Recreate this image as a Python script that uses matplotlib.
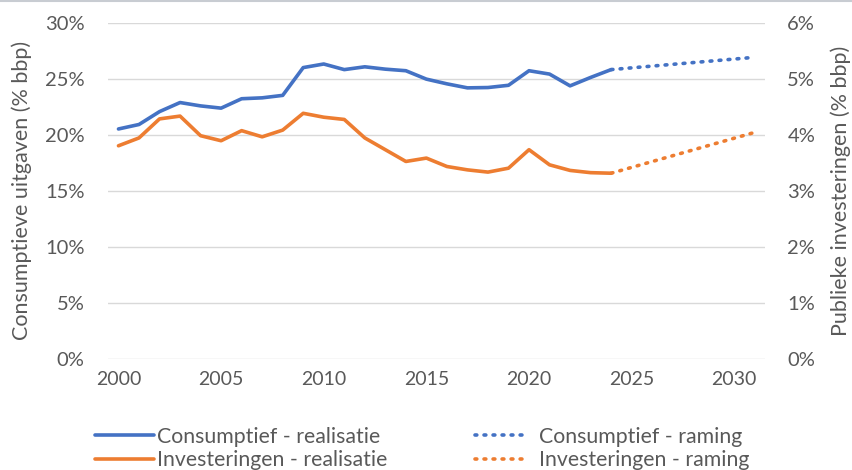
import matplotlib
matplotlib.use("Agg")
import matplotlib.pyplot as plt
from matplotlib.ticker import FuncFormatter
from matplotlib.lines import Line2D

plt.rcParams['font.family'] = ['Lato', 'DejaVu Sans']

years = list(range(2000, 2025))
consumptief = [20.5, 20.9, 22.05, 22.86, 22.56, 22.36, 23.2, 23.28, 23.5, 25.98,
               26.3, 25.8, 26.05, 25.84, 25.7, 24.95, 24.53, 24.17, 24.2, 24.4,
               25.7, 25.4, 24.35, 25.1, 25.8]
investeringen = [3.80, 3.94, 4.28, 4.33, 3.98, 3.89, 4.07, 3.96, 4.08, 4.38,
                 4.31, 4.27, 3.94, 3.73, 3.52, 3.58, 3.43, 3.37, 3.33, 3.40,
                 3.73, 3.46, 3.36, 3.32, 3.31]
raming_years = [2024, 2031]
consumptief_raming = [25.8, 26.9]
investeringen_raming = [3.31, 4.04]

left_ticks = [0, 5, 10, 15, 20, 25, 30]
right_ticks = [0, 1, 2, 3, 4, 5, 6]
x_ticks = [2000, 2005, 2010, 2015, 2020, 2025, 2030]

blue = '#4472C4'
orange = '#ED7D31'
grey = '#595959'
dots = (0, (0.5, 2.0))

fig = plt.figure(figsize=(8.52, 4.70), dpi=100)
ax = fig.add_axes([0.127, 0.237, 0.771, 0.715])
ax2 = ax.twinx()

l1, = ax.plot(years, consumptief, color=blue, lw=2.6, solid_capstyle='round',
              label='Consumptief - realisatie')
l3, = ax.plot(raming_years, consumptief_raming, color=blue, lw=2.6, ls=dots,
              dash_capstyle='round', label='Consumptief - raming')
l2, = ax2.plot(years, investeringen, color=orange, lw=2.6, solid_capstyle='round',
               label='Investeringen - realisatie')
l4, = ax2.plot(raming_years, investeringen_raming, color=orange, lw=2.6, ls=dots,
               dash_capstyle='round', label='Investeringen - raming')

ax.set_xlim(1999.5, 2031.5)
ax.set_ylim(0, 30)
ax2.set_ylim(0, 6)
ax.set_yticks(left_ticks)
ax2.set_yticks(right_ticks)
ax.set_xticks(x_ticks)
ax.yaxis.set_major_formatter(FuncFormatter(lambda v, p: f'{v:.0f}%'))
ax2.yaxis.set_major_formatter(FuncFormatter(lambda v, p: f'{v:.0f}%'))

ax.grid(axis='y', color='#d9d9d9', lw=1)
ax.set_axisbelow(True)
for a in (ax, ax2):
    for s in a.spines.values():
        s.set_visible(False)
    a.tick_params(length=0, labelsize=14.5, colors=grey)
ax.tick_params(axis='y', pad=17)
ax2.tick_params(axis='y', pad=16)
ax.tick_params(axis='x', labelsize=14, pad=9)

ax.set_ylabel('Consumptieve uitgaven (% bbp)', fontsize=15.5, color=grey)
ax2.set_ylabel('Publieke investeringen (% bbp)', fontsize=15.5, color=grey)
ax.yaxis.set_label_coords(-0.1157, 0.5)
ax2.yaxis.set_label_coords(1.099, 0.5)

common = dict(loc='center left', frameon=False, fontsize=15.3, labelcolor=grey,
              labelspacing=0.15, borderpad=0, borderaxespad=0)
leg1 = fig.legend(handles=[l1, l2], bbox_to_anchor=(0.1115, 0.0457),
                  handlelength=2.8, handletextpad=0.1, **common)
leg2 = fig.legend(handles=[l3, l4], bbox_to_anchor=(0.5575, 0.0457),
                  handlelength=2.45, handletextpad=0.55, **common)

fig.add_artist(Line2D([0, 1], [0.998, 0.998], transform=fig.transFigure,
                      color='#c8ccd2', lw=1.5))

fig.savefig('out.png', dpi=100)
